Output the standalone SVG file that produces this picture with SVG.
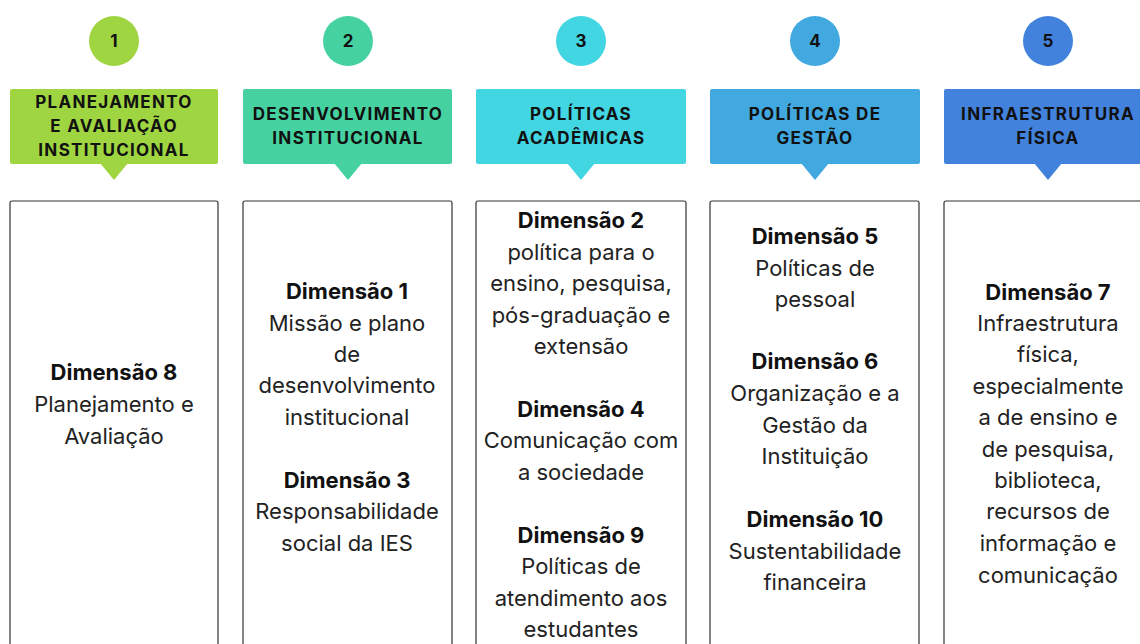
<svg xmlns="http://www.w3.org/2000/svg" width="1140" height="644" viewBox="0 0 1140 644">
<style>
.num{font-family:Inter,"Noto Sans",sans-serif;font-weight:700;font-size:17px;fill:#111;text-anchor:middle}
.hd{font-family:Inter,"Noto Sans",sans-serif;font-weight:700;font-size:17px;letter-spacing:1.3px;fill:#111;text-anchor:middle}
.body{fill:#fff;stroke:#333;stroke-width:1.2}
.b{font-family:Inter,"Noto Sans",sans-serif;font-weight:700;font-size:22px;fill:#111;text-anchor:middle}
.t{font-family:Inter,"Noto Sans",sans-serif;font-size:22px;fill:#222;text-anchor:middle}
</style>
<rect width="1140" height="644" fill="#fff"/>
<g id="connectors"></g>
<g id="col1">
<circle cx="114" cy="41" r="25" fill="#9FD540"/>
<text class="num" x="114" y="47">1</text>
<rect x="10" y="89" width="208" height="75" rx="2" fill="#9FD540"/>
<polygon points="100,163 128,163 114,180" fill="#9FD540"/>
<text class="hd" x="114" y="108">PLANEJAMENTO</text>
<text class="hd" x="114" y="132">E AVALIAÇÃO</text>
<text class="hd" x="114" y="156">INSTITUCIONAL</text>
<rect class="body" x="10" y="201" width="208" height="460" rx="2"/>
<text class="b" x="114" y="380">Dimensão 8</text>
<text class="t" x="114" y="412">Planejamento e</text>
<text class="t" x="114" y="444">Avaliação</text>
</g>
<g id="col2">
<circle cx="348" cy="41" r="25" fill="#45D2A0"/>
<text class="num" x="348" y="47">2</text>
<rect x="243" y="89" width="209" height="75" rx="2" fill="#45D2A0"/>
<polygon points="334,163 362,163 348,180" fill="#45D2A0"/>
<text class="hd" x="348" y="120">DESENVOLVIMENTO</text>
<text class="hd" x="348" y="144">INSTITUCIONAL</text>
<rect class="body" x="243" y="201" width="209" height="460" rx="2"/>
<text class="b" x="347" y="299">Dimensão 1</text>
<text class="t" x="347" y="331">Missão e plano</text>
<text class="t" x="347" y="362">de</text>
<text class="t" x="347" y="393">desenvolvimento</text>
<text class="t" x="347" y="425">institucional</text>
<text class="b" x="347" y="488">Dimensão 3</text>
<text class="t" x="347" y="519">Responsabilidade</text>
<text class="t" x="347" y="551">social da IES</text>
</g>
<g id="col3">
<circle cx="581" cy="41" r="25" fill="#42D5E2"/>
<text class="num" x="581" y="47">3</text>
<rect x="476" y="89" width="210" height="75" rx="2" fill="#42D5E2"/>
<polygon points="567,163 595,163 581,180" fill="#42D5E2"/>
<text class="hd" x="581" y="120">POLÍTICAS</text>
<text class="hd" x="581" y="144">ACADÊMICAS</text>
<rect class="body" x="476" y="201" width="210" height="460" rx="2"/>
<text class="b" x="581" y="228">Dimensão 2</text>
<text class="t" x="581" y="260">política para o</text>
<text class="t" x="581" y="291">ensino, pesquisa,</text>
<text class="t" x="581" y="323">pós-graduação e</text>
<text class="t" x="581" y="354">extensão</text>
<text class="b" x="581" y="417">Dimensão 4</text>
<text class="t" x="581" y="448">Comunicação com</text>
<text class="t" x="581" y="480">a sociedade</text>
<text class="b" x="581" y="543">Dimensão 9</text>
<text class="t" x="581" y="574">Políticas de</text>
<text class="t" x="581" y="606">atendimento aos</text>
<text class="t" x="581" y="637">estudantes</text>
</g>
<g id="col4">
<circle cx="815" cy="41" r="25" fill="#41A8E0"/>
<text class="num" x="815" y="47">4</text>
<rect x="710" y="89" width="210" height="75" rx="2" fill="#41A8E0"/>
<polygon points="801,163 829,163 815,180" fill="#41A8E0"/>
<text class="hd" x="815" y="120">POLÍTICAS DE</text>
<text class="hd" x="815" y="144">GESTÃO</text>
<rect class="body" x="710" y="201" width="209" height="460" rx="2"/>
<text class="b" x="815" y="244">Dimensão 5</text>
<text class="t" x="815" y="276">Políticas de</text>
<text class="t" x="815" y="307">pessoal</text>
<text class="b" x="815" y="369">Dimensão 6</text>
<text class="t" x="815" y="401">Organização e a</text>
<text class="t" x="815" y="433">Gestão da</text>
<text class="t" x="815" y="464">Instituição</text>
<text class="b" x="815" y="527">Dimensão 10</text>
<text class="t" x="815" y="559">Sustentabilidade</text>
<text class="t" x="815" y="590">financeira</text>
</g>
<g id="col5">
<circle cx="1048" cy="41" r="25" fill="#4282DC"/>
<text class="num" x="1048" y="47">5</text>
<rect x="944" y="89" width="210" height="75" rx="2" fill="#4282DC"/>
<polygon points="1034,163 1062,163 1048,180" fill="#4282DC"/>
<text class="hd" x="1048" y="120">INFRAESTRUTURA</text>
<text class="hd" x="1048" y="144">FÍSICA</text>
<rect class="body" x="944" y="201" width="210" height="460" rx="2"/>
<text class="b" x="1048" y="300">Dimensão 7</text>
<text class="t" x="1048" y="331">Infraestrutura</text>
<text class="t" x="1048" y="362">física,</text>
<text class="t" x="1048" y="394">especialmente</text>
<text class="t" x="1048" y="425">a de ensino e</text>
<text class="t" x="1048" y="457">de pesquisa,</text>
<text class="t" x="1048" y="488">biblioteca,</text>
<text class="t" x="1048" y="519">recursos de</text>
<text class="t" x="1048" y="551">informação e</text>
<text class="t" x="1048" y="583">comunicação</text>
</g>
</svg>
